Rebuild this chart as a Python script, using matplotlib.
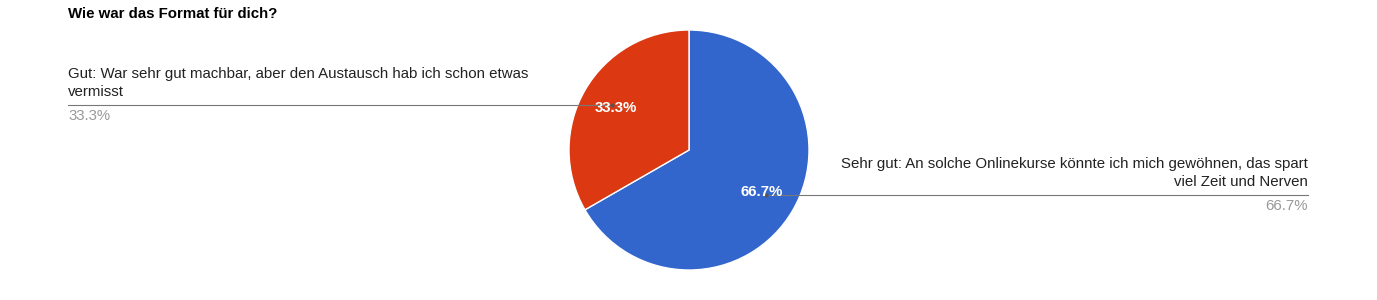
import matplotlib
matplotlib.use("Agg")
import matplotlib.pyplot as plt

plt.rcParams['font.family'] = ['Liberation Sans', 'DejaVu Sans']

title = "Wie war das Format für dich?"
labels = ["Sehr gut: An solche Onlinekurse könnte ich mich gewöhnen, das spart\nviel Zeit und Nerven",
          "Gut: War sehr gut machbar, aber den Austausch hab ich schon etwas\nvermisst"]
shares = [66.7, 33.3]
colors = ["#3366CC", "#DC3912"]

W, H = 1377, 300
fig = plt.figure(figsize=(W / 100, H / 100), dpi=100)
ax = fig.add_axes([0, 0, 1, 1])
ax.set_xlim(0, W)
ax.set_ylim(0, H)
ax.set_aspect('equal')
ax.axis('off')

cx, cy, r = 689, 150, 120
wedges, texts, autotexts = ax.pie(shares, colors=colors, startangle=90, counterclock=False,
                                  center=(cx, cy), radius=r, autopct='%1.1f%%', pctdistance=0.70,
                                  wedgeprops=dict(edgecolor='white', linewidth=1),
                                  textprops=dict(color='white', fontsize=10.8))
ax.set_xlim(0, W)
ax.set_ylim(0, H)
for t in autotexts:
    t.set_fontweight('bold')
    t.set_zorder(5)

fig.text(68 / W, 1 - 14 / H, title, fontsize=10.8, fontweight='bold', va='center', ha='left')

fs = 10.8
# left label (Gut)
yl = H - 105
ax.plot([68, 612], [yl, yl], color='#777777', lw=0.8, zorder=4)
ax.plot([612], [yl], 'o', color='#555555', ms=2, zorder=4)
ax.text(68, yl + 6, labels[1], fontsize=fs, color='#222222', ha='left', va='bottom', linespacing=1.35)
ax.text(68, yl - 4, f"{shares[1]:.1f}%", fontsize=fs, color='#999999', ha='left', va='top')

# right label (Sehr gut)
yr = H - 195
ax.plot([766, 1308], [yr, yr], color='#777777', lw=0.8, zorder=4)
ax.plot([766], [yr], 'o', color='#555555', ms=2, zorder=4)
ax.text(1308, yr + 6, labels[0], fontsize=fs, color='#222222', ha='right', va='bottom',
        multialignment='right', linespacing=1.35)
ax.text(1308, yr - 4, f"{shares[0]:.1f}%", fontsize=fs, color='#999999', ha='right', va='top')

fig.savefig('out.png', dpi=100)
